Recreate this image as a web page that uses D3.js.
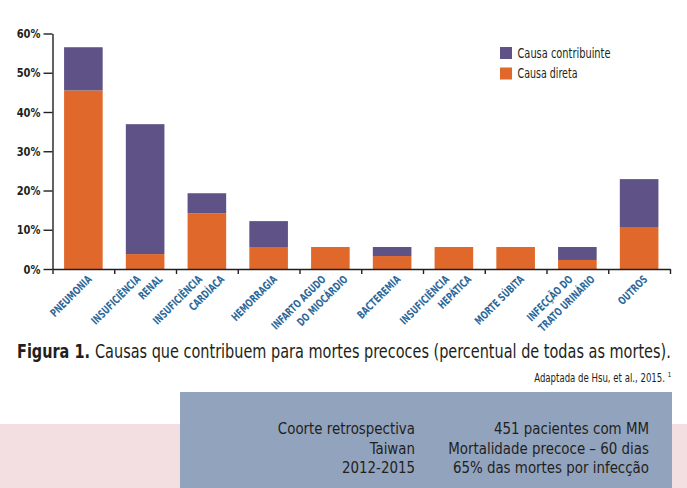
<!DOCTYPE html>
<html>
<head>
<meta charset="utf-8">
<script src="https://cdn.jsdelivr.net/npm/d3@7"></script>
<style>
  body { margin: 0; background: #fff; }
  svg { display: block; }
  .cond { font-family: "Liberation Sans Narrow", "DejaVu Sans Condensed", "Roboto", sans-serif; }
</style>
</head>
<body>
<div id="chart"></div>
<script>
// categorias (cada linha do rotulo separada)
var categories = [
  ["PNEUMONIA"],
  ["INSUFICIÊNCIA", "RENAL"],
  ["INSUFICIÊNCIA", "CARDÍACA"],
  ["HEMORRAGIA"],
  ["INFARTO AGUDO", "DO MIOCÁRDIO"],
  ["BACTEREMIA"],
  ["INSUFICIÊNCIA", "HEPÁTICA"],
  ["MORTE SÚBITA"],
  ["INFECÇÃO DO", "TRATO URINÁRIO"],
  ["OUTROS"]
];
var causaDireta = [45.5, 3.8, 14.2, 5.6, 5.6, 3.3, 5.6, 5.6, 2.3, 10.7];
var causaContribuinte = [11.0, 33.1, 5.1, 6.6, 0, 2.3, 0, 0, 3.3, 12.2];
var yTicks = [0, 10, 20, 30, 40, 50, 60];
var seriesNames = ["Causa contribuinte", "Causa direta"];
var captionBold = "Figura 1.";
var captionText = "Causas que contribuem para mortes precoces (percentual de todas as mortes).";
var sourceText = "Adaptada de Hsu, et al., 2015.";
var sourceRef = "1";
var boxLeft = ["Coorte retrospectiva", "Taiwan", "2012-2015"];
var boxRight = ["451 pacientes com MM", "Mortalidade precoce – 60 dias", "65% das mortes por infecção"];

var width = 687;
var height = 488;
var colorDireta = "#e0682b";
var colorContrib = "#5e5287";
var labelBlue = "#2c6899";
var ink = "#231f20";

// aperta o texto (a fonte original e mais condensada)
function squeeze(sel, f) {
  sel.each(function() {
    var w = this.getComputedTextLength();
    d3.select(this)
      .attr("textLength", w * f)
      .attr("lengthAdjust", "spacingAndGlyphs");
  });
}
// mesmo efeito com escala horizontal (caixa do texto fica certa)
function squeezeAt(sel, px, py, f) {
  sel.attr("x", 0).attr("y", 0)
    .attr("transform", "translate(" + px + "," + py + ") scale(" + f + ",1)");
}

var svg = d3.select("#chart").append("svg")
  .attr("width", width)
  .attr("height", height)
  .attr("class", "cond");

// faixa rosa e caixa azul no rodape
svg.append("rect")
  .attr("x", 0).attr("y", 424).attr("width", width).attr("height", height - 424)
  .attr("fill", "#f3dfe2");
svg.append("rect")
  .attr("x", 180).attr("y", 392).attr("width", 492).attr("height", height - 392)
  .attr("fill", "#92a3bd");

var idx = d3.range(categories.length);

var x = d3.scaleBand()
  .domain(idx)
  .range([52.5, 670])
  .paddingInner(0.375)
  .paddingOuter(0.1875);

var xEdges = d3.scaleLinear()
  .domain([0, categories.length])
  .range([52.5, 670]);

var y = d3.scaleLinear()
  .domain([0, 60])
  .range([269, 33.5]);

// stack
var rows = idx.map(function(i) {
  return { i: i, direta: causaDireta[i], contrib: causaContribuinte[i] };
});
var stack = d3.stack().keys(["direta", "contrib"]);
var layers = stack(rows);
var layerColors = { direta: colorDireta, contrib: colorContrib };

svg.selectAll("g.layer")
  .data(layers)
  .enter().append("g")
    .attr("class", "layer")
    .attr("fill", function(d) { return layerColors[d.key]; })
  .selectAll("rect")
  .data(function(d) { return d; })
  .enter().append("rect")
    .attr("x", function(d) { return x(d.data.i); })
    .attr("width", x.bandwidth())
    .attr("y", function(d) { return y(d[1]); })
    .attr("height", function(d) { return y(d[0]) - y(d[1]); });

// eixo y
var yAxis = svg.append("g")
  .attr("transform", "translate(52.5,0)")
  .call(d3.axisLeft(y)
    .tickValues(yTicks)
    .tickFormat(function(d) { return d + "%"; })
    .tickSize(9)
    .tickSizeOuter(0)
    .tickPadding(3));
yAxis.select(".domain").attr("stroke", ink).attr("stroke-width", 1.4);
yAxis.selectAll(".tick line").attr("stroke", ink).attr("stroke-width", 1.4);
yAxis.selectAll(".tick text")
  .attr("class", "cond")
  .attr("fill", ink)
  .attr("font-size", "13px")
  .attr("font-weight", "bold")
  .call(squeeze, 0.85);

// eixo x
var xAxis = svg.append("g")
  .attr("transform", "translate(0,269)")
  .call(d3.axisBottom(xEdges)
    .tickValues(d3.range(categories.length + 1))
    .tickFormat("")
    .tickSize(5)
    .tickSizeOuter(0));
xAxis.select(".domain").attr("stroke", ink).attr("stroke-width", 1.4);
xAxis.selectAll(".tick line").attr("stroke", ink).attr("stroke-width", 1.4);

// rotulos das categorias (rotacionados)
var labelG = svg.append("g");
categories.forEach(function(lines, i) {
  var cx = x(i) + x.bandwidth() / 2;
  var offs = lines.length === 1 ? [9] : [-4, 18];
  lines.forEach(function(t, k) {
    labelG.append("text")
      .attr("transform", "translate(" + (cx + offs[k]) + ",280) rotate(-45)")
      .attr("text-anchor", "end")
      .attr("font-size", "11px")
      .attr("font-weight", "bold")
      .attr("fill", labelBlue)
      .text(t);
  });
});
labelG.selectAll("text").call(squeeze, 0.78);

// legenda
var legend = svg.append("g").attr("transform", "translate(500,47)");
var legendColors = [colorContrib, colorDireta];
var legendWidths = [93, 60];
seriesNames.forEach(function(name, k) {
  legend.append("rect")
    .attr("x", 0).attr("y", k * 20.5)
    .attr("width", 12).attr("height", 12)
    .attr("fill", legendColors[k]);
  legend.append("text")
    .attr("x", 17.5).attr("y", k * 20.5 + 10.5)
    .attr("font-size", "14px")
    .attr("fill", ink)
    .attr("textLength", legendWidths[k])
    .attr("lengthAdjust", "spacingAndGlyphs")
    .text(name);
});

// legenda da figura: parte em negrito + resto
var capB = svg.append("text")
  .attr("font-size", "19px")
  .attr("font-weight", "bold")
  .attr("fill", ink)
  .text(captionBold);
var capR = svg.append("text")
  .attr("font-size", "19px")
  .attr("fill", ink)
  .text(captionText);
var wb = capB.node().getComputedTextLength();
var wr = capR.node().getComputedTextLength();
var gap = 5;
var f = (654 - gap) / (wb + wr);
squeezeAt(capB, 17, 358, f);
squeezeAt(capR, 17 + wb * f + gap, 358, f);

var src = svg.append("text")
  .attr("text-anchor", "end")
  .attr("font-size", "11.5px")
  .attr("fill", ink)
  .text(sourceText);
squeezeAt(src, 665, 382, 0.83);
svg.append("text")
  .attr("x", 667.5).attr("y", 377)
  .attr("font-size", "7px")
  .attr("fill", ink)
  .text(sourceRef);

// texto da caixa
var boxG = svg.append("g");
boxLeft.forEach(function(t, k) {
  boxG.append("text")
    .attr("x", 415).attr("y", 434 + k * 19.5)
    .attr("text-anchor", "end")
    .attr("font-size", "16px")
    .attr("fill", ink)
    .text(t);
});
boxRight.forEach(function(t, k) {
  boxG.append("text")
    .attr("x", 649).attr("y", 434 + k * 19.5)
    .attr("text-anchor", "end")
    .attr("font-size", "16px")
    .attr("fill", ink)
    .text(t);
});
boxG.selectAll("text").call(squeeze, 0.93);
</script>
</body>
</html>
